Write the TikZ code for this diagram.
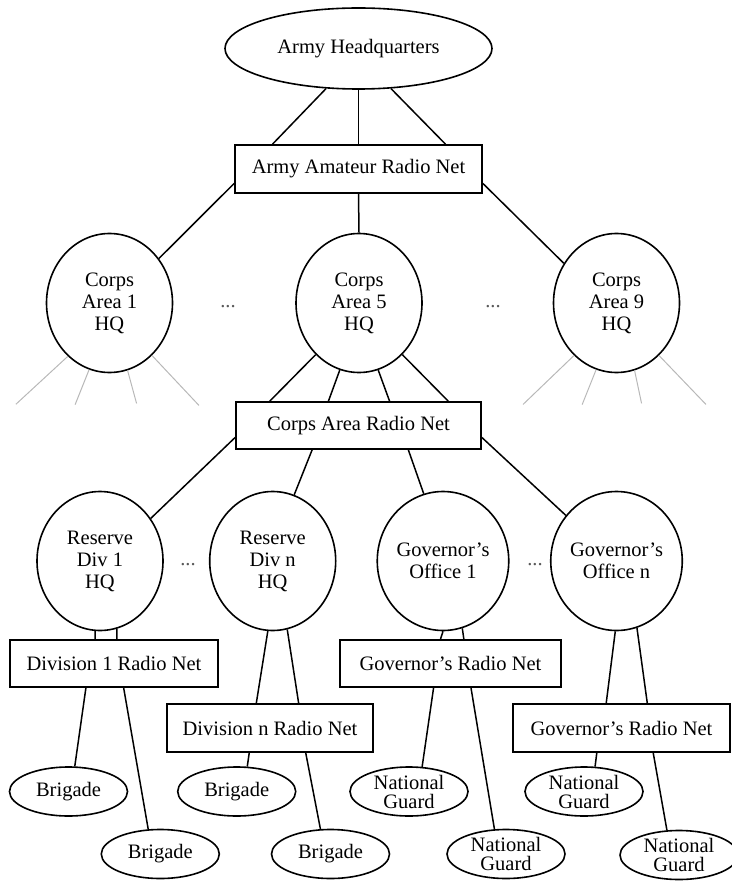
\documentclass[tikz,border=0pt]{standalone}
\usepackage{fontspec}
\setmainfont{Liberation Serif}
\usetikzlibrary{calc,shapes.geometric}

\begin{document}
\begin{tikzpicture}[x=1pt,y=-1pt,
  every node/.style={font=\fontsize{20.5}{22}\selectfont},
  oval/.style={draw, ellipse, line width=1.6pt, inner sep=0pt, align=center},
  bigoval/.style={oval, minimum width=126pt, minimum height=139pt},
  smalloval/.style={oval, minimum width=118pt, minimum height=49pt, inner sep=-6pt,
    font=\fontsize{20.5}{19}\selectfont},
  netbox/.style={draw, rectangle, line width=1.6pt, inner sep=0pt, minimum height=48pt},
  link/.style={line width=1.5pt},
  faint/.style={line width=1pt, black!28},
  gap/.style={text=black!65, inner sep=0pt}
]
\useasboundingbox (0,0) rectangle (731,882);

% top level
\node[oval, minimum width=267pt, minimum height=81pt] (hq) at (358.5,48.5) {Army Headquarters};
\node[netbox, minimum width=247pt] (aarn) at (358.5,169) {Army Amateur Radio Net};

% corps areas
\node[bigoval] (c1) at (109.5,303) {Corps\\Area 1\\HQ};
\node[bigoval] (c5) at (359,303) {Corps\\Area 5\\HQ};
\node[bigoval] (c9) at (616.5,303) {Corps\\Area 9\\HQ};
\node[gap] (dA) at (228,307) {...};
\node[gap] (dB) at (493,307) {...};

\node[netbox, minimum width=245pt, minimum height=47pt] (carn) at (358.5,425.5) {Corps Area Radio Net};

% divisions and governors
\node[bigoval] (r1) at (100,561) {Reserve\\Div 1\\HQ};
\node[bigoval] (rn) at (272.7,561) {Reserve\\Div n\\HQ};
\node[bigoval] (g1) at (443,561) {Governor’s\\Office 1};
\node[bigoval] (gn) at (616.5,561) {Governor’s\\Office n};
\node[gap] (dC) at (188,565) {...};
\node[gap] (dD) at (535,565) {...};

\node[netbox, minimum width=208pt, minimum height=47pt] (d1net) at (114,663.5) {Division 1 Radio Net};
\node[netbox, minimum width=206pt] (dnnet) at (270,728) {Division n Radio Net};
\node[netbox, minimum width=221pt, minimum height=47pt] (g1net) at (450.5,663.5) {Governor’s Radio Net};
\node[netbox, minimum width=217pt] (gnnet) at (621.5,728) {Governor’s Radio Net};

% units
\node[smalloval] (b1) at (68.5,791.5) {Brigade};
\node[smalloval] (b2) at (160.3,854) {Brigade};
\node[smalloval] (b3) at (236.7,791.5) {Brigade};
\node[smalloval] (b4) at (330.5,854) {Brigade};
\node[smalloval] (n1) at (409,791.5) {National\\Guard};
\node[smalloval] (n2) at (506,854) {National\\Guard};
\node[smalloval] (n3) at (584,791.5) {National\\Guard};
\node[smalloval] (n4) at (679,855) {National\\Guard};

% headquarters to amateur net
\draw[link] (hq.-129) -- ($(aarn.north west)!.154!(aarn.north east)$);
\draw[link] (hq.south) -- (aarn.north);
\draw[link] (hq.-51) -- ($(aarn.north west)!.85!(aarn.north east)$);

% amateur net to corps areas
\draw[link] ($(aarn.north west)!.79!(aarn.south west)$) -- (c1.42);
\draw[link] (aarn.south) -- (c5.north);
\draw[link] ($(aarn.north east)!.79!(aarn.south east)$) -- (c9.143);

% faint fan-outs of the outer corps areas
\draw[faint] (c1.-128) -- ++(-52,48);
\draw[faint] (c1.-107) -- ++(-14,35);
\draw[faint] (c1.-75) -- ++(9,33);
\draw[faint] (c1.-51) -- ++(47,50);
\draw[faint] (c9.-129) -- ++(-51,49);
\draw[faint] (c9.-107) -- ++(-14,35);
\draw[faint] (c9.-75) -- ++(7,33);
\draw[faint] (c9.-51) -- ++(47,49);

% corps area 5 to its radio net
\draw[link] (c5.-130) -- ($(carn.north west)!.14!(carn.north east)$);
\draw[link] (c5.-106) -- ($(carn.north west)!.378!(carn.north east)$);
\draw[link] (c5.-74) -- ($(carn.north west)!.626!(carn.north east)$);
\draw[link] (c5.-50) -- ($(carn.north west)!.864!(carn.north east)$);

% corps area net to divisions and governors
\draw[link] ($(carn.north west)!.745!(carn.south west)$) -- (r1.40);
\draw[link] ($(carn.south west)!.312!(carn.south east)$) -- (rn.72);
\draw[link] ($(carn.south west)!.702!(carn.south east)$) -- (g1.106);
\draw[link] ($(carn.north east)!.745!(carn.south east)$) -- (gn.138);

% headquarters to their own nets
\draw[link] (r1.-94) -- ($(d1net.north west)!.41!(d1net.north east)$);
\draw[link] (r1.-76) -- ($(d1net.north west)!.514!(d1net.north east)$);
\draw[link] (rn.-94) -- ($(dnnet.north west)!.434!(dnnet.north east)$);
\draw[link] (rn.-78) -- ($(dnnet.north west)!.638!(dnnet.north east)$);
\draw[link] (g1.-90) -- ($(g1net.north west)!.455!(g1net.north east)$);
\draw[link] (g1.-74) -- ($(g1net.north west)!.56!(g1net.north east)$);
\draw[link] (gn.-91) -- ($(gnnet.north west)!.43!(gnnet.north east)$);
\draw[link] (gn.-73) -- ($(gnnet.north west)!.618!(gnnet.north east)$);

% nets to units
\draw[link] ($(d1net.south west)!.366!(d1net.south east)$) -- (b1.76);
\draw[link] ($(d1net.south west)!.546!(d1net.south east)$) -- (b2.116);
\draw[link] ($(dnnet.south west)!.4!(dnnet.south east)$) -- (b3.67);
\draw[link] ($(dnnet.south west)!.672!(dnnet.south east)$) -- (b4.112);
\draw[link] ($(g1net.south west)!.424!(g1net.south east)$) -- (n1.62);
\draw[link] ($(g1net.south west)!.592!(g1net.south east)$) -- (n2.115);
\draw[link] ($(gnnet.south west)!.387!(gnnet.south east)$) -- (n3.66);
\draw[link] ($(gnnet.south west)!.645!(gnnet.south east)$) -- (n4.116);
\end{tikzpicture}
\end{document}
